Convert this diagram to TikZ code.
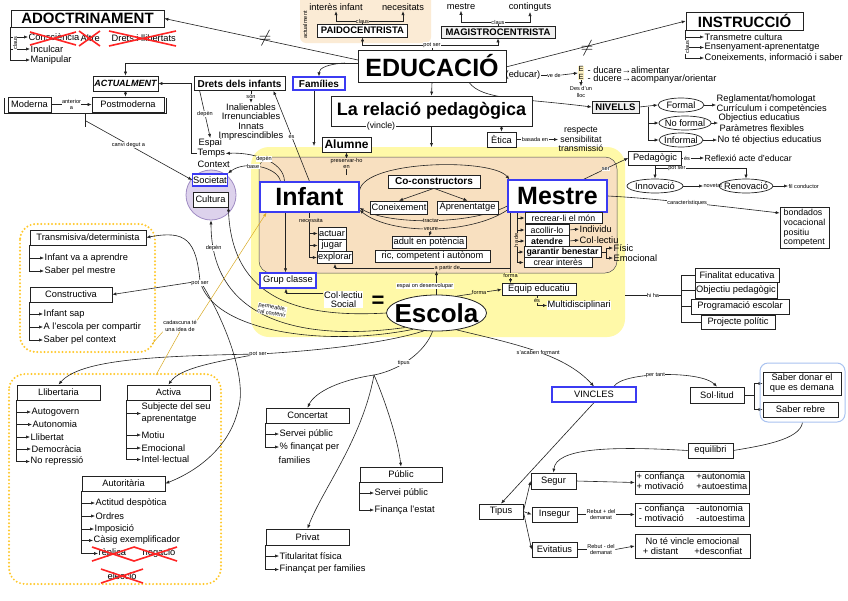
\documentclass[tikz,border=0pt]{standalone}
\usepackage{fontspec}
\setmainfont{Liberation Sans}
\usetikzlibrary{arrows.meta,shapes.geometric,calc}
\pgfdeclarelayer{bg}
\pgfdeclarelayer{edges}
\pgfsetlayers{bg,edges,main}
\definecolor{yel}{HTML}{FFF9A8}
\definecolor{beige}{HTML}{F8E0C0}
\definecolor{tbeige}{HTML}{FBEBD5}
\definecolor{lav}{HTML}{DDD2EC}
\definecolor{lavd}{HTML}{A08CC4}
\definecolor{dorange}{HTML}{FFC82A}
\definecolor{bblue}{HTML}{3B3BF2}
\definecolor{lblue}{HTML}{A9C2F0}
\definecolor{xred}{HTML}{FF2424}
\definecolor{ink}{HTML}{222222}
\tikzset{
  mw/.style={minimum width=#1},
  mh/.style={minimum height=#1},
  nf/.style={font=\fontsize{9.3}{10.3}\selectfont},
  box/.style={draw=ink, line width=0.7pt, fill=white, inner sep=1pt, nf},
  bbox/.style={box, draw=bblue, line width=1.2pt},
  gbox/.style={box, fill=gray!12},
  mbox/.style={box, inner sep=0.6pt, mh=10.5pt, font=\fontsize{8.8}{9.5}\selectfont},
  txt/.style={inner sep=0.5pt, nf, anchor=west},
  ctxt/.style={inner sep=0.5pt, nf},
  lbl/.style={inner sep=0.4pt, font=\fontsize{5.6}{6.2}\selectfont, fill=white},
  conn/.style={draw=ink, line width=0.6pt},
  arr/.style={conn, -{Latex[length=4pt,width=3.2pt]}},
  oval/.style={ellipse, draw=ink, line width=0.7pt, fill=white, inner xsep=-3pt, inner ysep=-2pt, mh=14pt, nf},
  redx/.style={draw=xred, line width=1.6pt},
  dotbox/.style={draw=dorange, line width=2.2pt, dash pattern=on 0pt off 3.6pt, line cap=round, rounded corners=16pt},
  yline/.style={draw=dorange!85!black, line width=0.5pt},
}
\begin{document}
\begin{tikzpicture}[x=1pt,y=-1pt]
\useasboundingbox (0,0) rectangle (848,600);
\begin{pgfonlayer}{bg}
  \fill[white] (0,0) rectangle (848,600);
  \fill[tbeige, rounded corners=6pt] (300,-10) rectangle (431,43);
  \fill[yel, rounded corners=18pt] (251,147) rectangle (625,337);
  \filldraw[fill=beige, draw=ink!80, line width=0.5pt, rounded corners=12pt] (259,157) rectangle (617,273);
  \node[circle, draw=lavd, line width=0.8pt, fill=lav, minimum size=50pt, inner sep=0pt] (circ) at (211,195) {};
  \draw[dotbox] (20,224) rectangle (155,352);
  \draw[dotbox] (9,374) rectangle (221,584);
\end{pgfonlayer}

% ---------------- top left
\node[box, mw=153pt, mh=17pt, font=\bfseries\fontsize{15}{15}\selectfont] (adoc) at (87.5,18.5) {ADOCTRINAMENT};
\node[txt] (consc) at (28,37) {Consciència};
\node[txt] (altre) at (80,38) {Altre};
\node[txt] (dretsll) at (111,38) {Drets i llibertats};
\node[txt] (incul) at (30,49) {Inculcar};
\node[txt] (manip) at (30,60) {Manipular};
\node[lbl, rotate=90] (claus1) at (15,43) {claus};
\node[box, mw=65pt, mh=15pt, font=\bfseries\itshape\fontsize{9}{10}\selectfont] (actual) at (125.5,83.5) {ACTUALMENT};
\node[box, mw=43pt, mh=15pt] (moderna) at (29.5,104.5) {Moderna};
\node[box, mw=72pt, mh=15pt] (post) at (128,104.5) {Postmoderna};
\coordinate (brk) at (86,121);

% ---------------- drets / families
\node[box, mw=91pt, mh=14pt, font=\bfseries\fontsize{10}{11}\selectfont] (drets) at (239.5,83.5) {Drets dels infants};
\node[ctxt, align=center, font=\fontsize{9.3}{9.4}\selectfont] (inal) at (251,122) {Inalienables\\Irrenunciables\\Innats\\Imprescindibles};
\node[txt] (espai) at (198,143) {Espai};
\node[txt] (temps) at (197,153.5) {Temps};
\node[txt] (context) at (197,164) {Context};
\coordinate (tcorner) at (191,83.5);
\node[bbox, mw=52pt, mh=13pt, font=\bfseries\fontsize{10}{11}\selectfont] (fam) at (319,83.5) {Famílies};
\coordinate (famend) at (314,146);
\node[box, mw=49pt, mh=15pt, font=\bfseries\fontsize{12}{13}\selectfont] (alumne) at (346.5,144.5) {Alumne};
\coordinate (pres) at (346.5,175);

% ---------------- top middle
\node[ctxt] (intinf) at (336,7) {interès infant};
\node[ctxt] (necess) at (403,7) {necesitats};
\node[box, mw=90pt, mh=13pt, font=\bfseries\fontsize{9.5}{10}\selectfont] (paido) at (362.5,30.5) {PAIDOCENTRISTA};
\coordinate (cp) at (362.5,21);
\node[lbl, fill=none, rotate=90] (actualm) at (305,25) {actualment};
\node[ctxt] (mestret) at (461,7) {mestre};
\node[ctxt] (contin) at (530,7) {continguts};
\node[gbox, mw=114pt, mh=12pt, font=\bfseries\fontsize{9.5}{10}\selectfont] (magis) at (498,32) {MAGISTROCENTRISTA};
\coordinate (cm) at (498,22);
\node[box, mw=148pt, mh=32pt, font=\bfseries\fontsize{25}{25}\selectfont] (educ) at (432,66) {EDUCACIÓ};
\coordinate (ps0) at (432,45);
\coordinate (e60) at (358,60);
\coordinate (e63) at (358,63);
\coordinate (f63) at (345,63);
\coordinate (e67) at (506,67);
\node[font=\bfseries\fontsize{17}{17}\selectfont, inner sep=0pt] (ne1) at (265,38) {$\neq$};
\node[font=\bfseries\fontsize{17}{17}\selectfont, inner sep=0pt] (ne2) at (587,48) {$\neq$};

% ---------------- top right
\node[box, mw=117pt, mh=18pt, font=\bfseries\fontsize{15}{15}\selectfont] (instr) at (744.5,21) {INSTRUCCIÓ};
\node[txt] (transm1) at (704,37) {Transmetre cultura};
\node[txt] (ensen) at (704,47.5) {Ensenyament-aprenentatge};
\node[txt] (coneixs) at (704,58) {Coneixements, informació i saber};
\node[lbl, rotate=90] (claus2) at (687,47) {claus};
\node[ctxt] (educar) at (523,75) {(educar)};
\node[lbl, fill=none] (vede) at (554,75) {ve de};
\node[fill=tbeige!60!yel, inner sep=0.4pt, align=center, font=\fontsize{7.5}{7.5}\selectfont] (Ebox) at (581,73) {E\\E};
\node[txt] (ducare) at (587,70) {- ducare→alimentar};
\node[txt] (ducere) at (587,79) {- ducere→acompanyar/orientar};
\node[lbl, fill=none, align=center] (desd) at (581,92) {Des d'un\\lloc};
\node[gbox, mw=47pt, mh=12pt, font=\bfseries\fontsize{9.5}{10}\selectfont] (niv) at (615.5,107) {NIVELLS};
\node[oval, mw=46pt] (formal) at (681,105) {Formal};
\node[oval, mw=52pt] (noformal) at (685,123) {No formal};
\node[oval, mw=44pt] (informal) at (681,140) {Informal};
\coordinate (nb) at (648,107);
\node[txt] (regl) at (716,99) {Reglamentat/homologat};
\node[txt] (curr) at (716,109.5) {Currículum i competències};
\node[txt] (objed) at (718,118) {Objectius educatius};
\node[txt] (param) at (719,128) {Paràmetres flexibles};
\node[txt] (noteobj) at (717,140) {No té objectius educatius};
\node[box, mw=53pt, mh=14pt] (pedag) at (655,158) {Pedagògic};
\node[lbl] (es3) at (687,158) {és};
\node[txt, font=\fontsize{8.8}{9.5}\selectfont] (reflex) at (704,158) {Reflexió acte d'educar};
\coordinate (pb) at (655,168);
\node[oval, mw=56pt] (innov) at (655,186) {Innovació};
\node[oval, mw=50pt] (renov) at (746,186) {Renovació};
\node[lbl, fill=none, anchor=west] (novetat) at (703,186) {novetat};
\node[lbl, fill=none, anchor=west] (filc) at (788,186) {fil conductor};
\node[box, align=left, inner sep=2pt, font=\fontsize{8.8}{9.6}\selectfont, mw=49pt] (bond) at (804.5,228) {bondados\\vocacional\\positiu\\competent};

% ---------------- relacio
\node[box, mw=201pt, mh=30pt, font=\bfseries\fontsize{18}{18}\selectfont] (relacio) at (431.5,111) {La relació pedagògica};
\node[ctxt, fill=white, font=\fontsize{8.8}{9}\selectfont] (vincle) at (381,126) {(vincle)};
\coordinate (ytop) at (431.5,147);
\node[box, mw=29pt, mh=15pt] (etica) at (501.5,139.5) {Ètica};
\node[lbl, fill=none] (basada) at (535,139.5) {basada en};
\node[txt, align=center, font=\fontsize{8.8}{9.6}\selectfont] (valors) at (558,139.5) {respecte\\sensibilitat\\transmissió};

% ---------------- society
\node[bbox, mw=34pt, mh=12pt, inner sep=0.5pt] (soc) at (210,180) {Societat};
\node[box, mw=35pt, mh=15pt] (cult) at (210.5,199.5) {Cultura};

% ---------------- infant / mestre
\node[bbox, mw=99pt, mh=30pt, font=\bfseries\fontsize{25}{25}\selectfont] (infant) at (309.5,197) {Infant};
\node[bbox, mw=99pt, mh=32pt, font=\bfseries\fontsize{25}{25}\selectfont] (mestre) at (557.5,196) {Mestre};
\node[box, mw=92pt, mh=13pt, font=\bfseries\fontsize{10}{11}\selectfont] (cocon) at (434,181.5) {Co-constructors};
\node[box, mw=56pt, mh=13pt] (coneix) at (399,207.5) {Coneixement};
\node[box, mw=61pt, mh=13pt] (apren) at (467.5,207.5) {Aprenentatge};
\node[box, mw=74pt, mh=12pt] (adult) at (429,242.5) {adult en potència};
\node[box, mw=115pt, mh=12pt] (ric) at (432.5,256.5) {ric, competent i autònom};
\node[box, mw=28pt, mh=12pt] (actuar) at (332,233.5) {actuar};
\node[box, mw=28pt, mh=12pt] (jugar) at (332,245.5) {jugar};
\node[box, mw=34pt, mh=12pt] (explorar) at (335,257.5) {explorar};
\node[lbl, fill=beige] (necessita) at (311,220) {necessita};
\node[mbox, mw=77pt] (recrear) at (563.5,218) {recrear-li el món};
\node[mbox, mw=44pt] (acollir) at (547,230) {acollir-lo};
\node[mbox, mw=44pt, font=\bfseries\fontsize{8.8}{9.5}\selectfont] (atendre) at (547,241) {atendre};
\node[mbox, mw=77pt, font=\bfseries\fontsize{8.8}{9.5}\selectfont] (garantir) at (562.5,252) {garantir benestar};
\node[mbox, mw=68pt] (crear) at (558,262.5) {crear interès};
\node[lbl, rotate=90, fill=beige] (hade) at (516,240) {ha de};
\node[txt] (indiv) at (579,229) {Individu};
\node[txt] (collec) at (579,240) {Col·lectiu};
\node[txt] (fisic) at (613,248) {Físic};
\node[txt] (emoc) at (613,258) {Emocional};
\coordinate (mb) at (517,212);
\coordinate (gb) at (606,252);

% ---------------- escola
\node[bbox, mw=56pt, mh=15pt] (grup) at (288,280.5) {Grup classe};
\node[ctxt, align=center, fill=white, font=\fontsize{9.3}{9.6}\selectfont] (colsoc) at (343.5,299.5) {Col·lectiu\\Social};
\node[font=\bfseries\fontsize{22}{22}\selectfont, inner sep=0pt] (eqsign) at (378,302) {=};
\node[ellipse, draw=ink, line width=0.8pt, fill=white, minimum width=100pt, minimum height=36pt, inner xsep=-20pt, inner ysep=-6pt, font=\bfseries\fontsize{26}{26}\selectfont] (escola) at (436.5,313) {Escola};
\node[box, mw=74pt, mh=12pt] (equip) at (539,289.5) {Equip educatiu};
\node[lbl, fill=yel] (es4) at (537,300.5) {és};
\node[txt, fill=white] (multi) at (547,305.5) {Multidisciplinari};
\coordinate (ap) at (510.5,268);
\coordinate (eup) at (436.5,271);
\node[lbl] (espaiL) at (425,286) {espai on desenvolupar};
\coordinate (yr) at (625,295);
\coordinate (hb) at (681,295);
\node[box, mw=84pt, mh=14pt] (finalitat) at (737,275) {Finalitat educativa};
\node[box, mw=82pt, mh=16pt] (objectiu) at (736,290) {Objectiu pedagògic};
\node[box, mw=98pt, mh=15pt] (program) at (740,306.5) {Programació escolar};
\node[box, mw=74pt, mh=14pt] (projecte) at (738,322) {Projecte polític};

% ---------------- left groups
\node[box, mw=116pt, mh=15pt] (transm) at (88,237.5) {Transmisiva/determinista};
\node[txt] (t1) at (44,258) {Infant va a aprendre};
\node[txt] (t2) at (44,271) {Saber pel mestre};
\node[box, mw=82pt, mh=15pt] (constr) at (71,294.5) {Constructiva};
\node[txt] (c1) at (43,314) {Infant sap};
\node[txt] (c2) at (43,327) {A l'escola per compartir};
\node[txt] (c3) at (43,340) {Saber pel context};
\coordinate (ps1) at (200,281);
\node[lbl, align=center, fill=none] (cada) at (180,326) {cadascuna té\\una idea de};
\coordinate (yl1) at (152,344);
\coordinate (yl2) at (156,375);

\node[box, mw=83pt, mh=15pt] (llib) at (58.5,392.5) {Llibertaria};
\node[txt] (l1) at (31,412) {Autogovern};
\node[txt] (l2) at (32,424.5) {Autonomia};
\node[txt] (l3) at (30,437) {Llibertat};
\node[txt] (l4) at (31,449) {Democràcia};
\node[txt] (l5) at (30,461.5) {No repressió};
\node[box, mw=83pt, mh=15pt] (activa) at (168.5,392.5) {Activa};
\node[txt, align=left, font=\fontsize{9.3}{12}\selectfont] (a1) at (141,413.5) {Subjecte del seu\\aprenentatge};
\node[txt] (a2) at (141,435) {Motiu};
\node[txt] (a3) at (141,448) {Emocional};
\node[txt] (a4) at (141,459.5) {Intel·lectual};
\node[box, mw=83pt, mh=15pt] (autor) at (123.5,483.5) {Autoritària};
\node[txt] (u1) at (95,503) {Actitud despòtica};
\node[txt] (u2) at (95,516) {Ordres};
\node[txt] (u3) at (94,529) {Imposició};
\node[txt] (u4) at (93,540.5) {Càsig exemplificador};
\node[txt] (u5) at (98,553.5) {rèplica};
\node[txt] (u6) at (142,553.5) {negació};
\node[txt] (u7) at (107,576) {elecció};
\coordinate (ps2) at (258,354);

% ---------------- school types
\coordinate (tb) at (374,375);
\node[box, mw=83pt, mh=15pt] (concert) at (307.5,415.5) {Concertat};
\node[txt] (k1) at (279,434) {Servei públic};
\node[txt] (k2) at (279,447) {\% finançat per};
\node[txt] (k3) at (278,460) {families};
\node[box, mw=82pt, mh=15pt] (public) at (401,474.5) {Públic};
\node[txt] (p1) at (374,493) {Servei públic};
\node[txt] (p2) at (374,510) {Finança l'estat};
\node[box, mw=83pt, mh=16pt] (privat) at (307.5,537) {Privat};
\node[txt] (v1) at (279,556) {Titularitat física};
\node[txt] (v2) at (279,569.5) {Finançat per families};

% ---------------- vincles
\node[bbox, mw=84pt, mh=15pt] (vincles) at (594,394.5) {VINCLES};
\node[box, mw=54pt, mh=16pt] (sol) at (717,395) {Sol·litud};
\node[draw=lblue, line width=1pt, rounded corners=8pt, minimum width=85pt, minimum height=59pt, inner sep=0pt] (sabergrp) at (802.5,392.5) {};
\node[box, mw=78pt, mh=23pt, align=center, font=\fontsize{9.3}{10}\selectfont] (saberd) at (802,383.5) {Saber donar el\\que es demana};
\node[box, mw=75pt, mh=15pt] (saberr) at (800.5,409.5) {Saber rebre};
\coordinate (sb) at (754,395);
\node[box, mw=45pt, mh=15pt] (equil) at (710.5,450.5) {equilibri};
\node[box, mw=44pt, mh=15pt] (tipus2) at (501,511.5) {Tipus};
\node[box, mw=45pt, mh=16pt] (segur) at (553.5,481) {Segur};
\node[box, mw=45pt, mh=15pt] (insegur) at (554.5,514.5) {Insegur};
\node[box, mw=45pt, mh=15pt] (evit) at (554.5,549.5) {Evitatius};
\node[box, mw=114pt, mh=23pt] (bx1) at (692,482.5) {\begin{tabular}{@{}l@{\hspace{12pt}}l@{}}+ confiança & +autonomia\\+ motivació & +autoestima\end{tabular}};
\node[box, mw=114pt, mh=23pt] (bx2) at (692,514.5) {\begin{tabular}{@{}l@{\hspace{12pt}}l@{}}- confiança & -autonomia\\- motivació & -autoestima\end{tabular}};
\node[box, mw=115pt, mh=24pt, align=center, font=\fontsize{9.3}{10.5}\selectfont] (bx3) at (692.5,546) {No té vincle emocional\\+ distant\hspace{16pt}+desconfiat};
\node[lbl, align=center, fill=none] (reb1) at (601,514.5) {Rebut + del\\demanat};
\node[lbl, align=center, fill=none] (reb2) at (601,549.5) {Rebut - del\\demanat};

% ---------------- labels on junctions
\node[lbl, fill=tbeige] (clausp) at (cp) {claus};
\node[lbl] (clausm) at (cm) {claus};
\node[lbl] (potser0) at (ps0) {pot ser};
\node[lbl] (potser1) at (200,283) {pot ser};
\node[lbl] (potser2) at (ps2) {pot ser};
\node[lbl, align=center, rotate=-10] (perm) at (272,310) {permeable,\\cal contenir};

% ---------------- red crosses
\draw[redx] (30,32) -- (76,45) (30,45) -- (76,32);
\draw[redx] (79,31) -- (100,46) (79,46) -- (100,31);
\draw[redx] (109,31) -- (176,46) (109,46) -- (176,31);
\draw[redx] (92,547) -- (134,561) (92,561) -- (134,547);
\draw[redx] (134,547) -- (177,561) (134,561) -- (177,547);
\draw[redx] (101,569) -- (143,583) (101,583) -- (143,569);

\begin{pgfonlayer}{edges}
% top left
\draw[arr] (e60) -- (adoc.east);
\draw[arr] (adoc.south west) |- (manip.west);
\draw[arr] (adoc.south west |- consc.west) -- (consc.west);
\draw[arr] (adoc.south west |- incul.west) -- (incul.west);
\draw[arr] (e63) -| (actual.north);
\draw[arr] (f63) .. controls (328,64) and (319,68) .. (fam.north);
\draw[arr] (actual.south) -- (actual.south |- post.north);
\draw[arr] (moderna.east) -- (post.west) node[lbl, midway, align=center] {anterior\\a};
\draw[conn] (4,98) -- (4,113) -- (166,113) -- (166,98);
\draw[conn] (85,113) -- (85,127);
\draw[arr] (brk) -- (soc.west) node[lbl, pos=0.4] {canvi degut a};
\draw[arr] (temps.west) -| (tcorner) -- (actual.east);
\draw[arr] ([xshift=6pt]drets.south west) -- (espai.north) node[lbl, midway] {depèn};
\draw[arr] (drets.south -| inal.north) -- (inal.north) node[lbl, midway] {són};
\draw[arr] (infant.north) -- ([xshift=34pt]drets.south) node[lbl, pos=0.5] {és};
\draw[arr] (fam.south -| famend) -- (famend);
\draw[arr] (pres) -- (alumne.south) node[lbl, midway, fill=beige, align=center] {preservar-ho\\en};
% educacio
\draw[arr] (educ.south) -- (relacio.north);
\draw[arr] (relacio.south) -- (ytop);
\draw[arr] (relacio.south -| etica.north) -- (etica.north);
\draw[conn] (etica.east) -- (basada.west);
\draw[arr] (basada.east) -- (valors.west);
\draw[conn] (educ.north) -- (ps0);
\draw[arr] (ps0) -| (paido.south);
\draw[arr] (ps0) -| (magis.south);
\draw[conn] (paido.north) -- (cp);
\draw[arr] (cp) -| (intinf.south);
\draw[arr] (cp) -| (necess.south);
\draw[conn] (magis.north) -- (cm);
\draw[arr] (cm) -| (mestret.south);
\draw[arr] (cm) -| (contin.south);
\draw[arr] (e67) -- (instr.west);
\draw[arr] (instr.south west) |- (coneixs.west);
\draw[arr] (instr.south west |- transm1.west) -- (transm1.west);
\draw[arr] (instr.south west |- ensen.west) -- (ensen.west);
\draw[conn] (educar.east) -- (vede.west);
\draw[arr] (vede.east) -- (Ebox.west);
\draw[arr] (Ebox.south) -- (desd.north);
\draw[arr] ([xshift=37pt]educ.south) .. controls (482,100) and (520,98) .. (niv.west);
% nivells
\draw[arr] (niv.east) -- (formal.west);
\draw[arr] (nb) |- (noformal.west);
\draw[arr] (nb) |- (informal.west);
\draw[arr] (formal.east) -- (formal.east -| regl.west);
\draw[arr] (noformal.east) -- (noformal.east -| objed.west);
\draw[arr] (informal.east) -- (informal.east -| noteobj.west);
% pedagogic
\draw[arr] ([xshift=26pt]mestre.north) -- (pedag.west) node[lbl, pos=0.5] {ser};
\draw[conn] (pedag.east) -- (es3.west);
\draw[arr] (es3.east) -- (reflex.west);
\draw[conn] (pedag.south) -- (pb);
\draw[arr] (pb) -- (innov.north);
\draw[arr] (pb) -| (renov.north) node[lbl, pos=0.12] {pot ser};
\draw[arr] (innov.east) -- (novetat.west);
\draw[arr] (renov.east) -- (filc.west);
\draw[arr] (mestre.east) .. controls (650,198) and (720,206) .. ([yshift=15pt]bond.west) node[lbl, pos=0.5] {característiques};
% infant
\draw[arr] ([xshift=-25pt]infant.north) .. controls (284,160) and (250,152) .. (temps.east) node[lbl, pos=0.5] {depèn};
\draw[arr] ([xshift=-29pt]infant.north) .. controls (278,167) and (245,160) .. (soc.north east) node[lbl, pos=0.6] {base};
\draw[arr] ([yshift=7pt]infant.east) .. controls (366,160) and (492,158) .. ([xshift=2pt]mestre.north west);
\draw[arr] (cocon.south) -- (coneix.north);
\draw[arr] (cocon.south) -- (apren.north);
\draw[arr] ([yshift=-10pt]mestre.west) .. controls (470,225) and (390,225) .. ([yshift=-11pt]infant.east) node[lbl, pos=0.5, fill=beige] {tractar};
\draw[arr] ([yshift=-14pt]mestre.west) .. controls (470,235) and (390,235) .. ([yshift=-13pt]infant.east) node[lbl, pos=0.5, fill=beige] (veurel) {veure};
\draw[arr] (veurel.south) -- (adult.north);
\draw[arr] (infant.south) |- (explorar.west);
\draw[arr] (infant.south |- actuar.west) -- (actuar.west);
\draw[arr] (infant.south |- jugar.west) -- (jugar.west);
\draw[arr] ([xshift=-24pt]infant.south) -- ([xshift=-24pt]infant.south |- grup.north);
\draw[arr] ([yshift=6pt]colsoc.west) -| ([xshift=-2pt]grup.south);
% mestre
\draw[arr] (mb) |- (crear.west);
\draw[arr] (mb |- recrear.west) -- (recrear.west);
\draw[arr] (mb |- acollir.west) -- (acollir.west);
\draw[arr] (mb |- atendre.west) -- (atendre.west);
\draw[arr] (mb |- garantir.west) -- (garantir.west);
\draw[arr] (acollir.east) -- (indiv.west);
\draw[arr] (atendre.east) -- (collec.west);
\draw[conn] (garantir.east) -- (gb);
\draw[arr] (gb) |- (fisic.west);
\draw[arr] (gb) |- (emoc.west);
\draw[arr] ([xshift=-47pt]mestre.south) -- ([xshift=-47pt]mestre.south |- equip.north) node[lbl, pos=0.89, fill=yel] {forma};
\draw[arr] (ap) -| (explorar.south) node[lbl, pos=0.18, fill=beige] {a partir de};
% escola
\draw[arr] (escola.north) -- (eup);
\draw[arr] (escola.40) -- (equip.west) node[lbl, midway, fill=yel] {forma};
\draw[conn] (equip.south -| es4) -- (es4);
\draw[arr] (es4.south) |- (multi.west);
\draw[conn] (yr) -- (hb) node[lbl, midway] {hi ha};
\draw[conn, line width=0.9pt] (hb |- finalitat.west) -- (hb |- projecte.west);
\draw[conn] (hb |- finalitat.west) -- (finalitat.west);
\draw[conn] (hb |- objectiu.west) -- (objectiu.west);
\draw[conn] (hb |- program.west) -- (program.west);
\draw[conn] (hb |- projecte.west) -- (projecte.west);
\draw[arr] (escola.west) .. controls (300,318) and (232,300) .. (cult.south east);
\draw[arr] (escola.205) .. controls (300,342) and (211,320) .. (circ.south) node[lbl, pos=0.9] {depèn};
\draw[conn] (escola.215) .. controls (320,348) and (212,330) .. (ps1);
\draw[arr] (ps1) .. controls (196,240) and (186,230) .. (transm.east);
\draw[arr] (ps1) -- (constr.east);
\draw[arr] (ps1) .. controls (225,320) and (248,380) .. (238,410) .. controls (230,445) and (200,470) .. (autor.east);
\draw[conn] (escola.235) .. controls (380,345) and (300,352) .. (ps2);
\draw[arr] (ps2) .. controls (150,356) and (80,360) .. (llib.north);
\draw[arr] (ps2) .. controls (215,362) and (180,368) .. (activa.north);
\draw[yline, -{Latex[length=4pt,width=3pt]}] (cada.north east) -- ([xshift=-43pt]infant.south);
\draw[yline] (cada.south west) -- (yl1);
\draw[yline] (cada.south) -- (yl2);
% left lists
\draw[arr] (transm.south west) |- (t2.west);
\draw[arr] (transm.south west |- t1.west) -- (t1.west);
\draw[arr] (constr.south west) |- (c3.west);
\draw[arr] (constr.south west |- c1.west) -- (c1.west);
\draw[arr] (constr.south west |- c2.west) -- (c2.west);
\draw[arr] (llib.south west) |- (l5.west);
\draw[arr] (llib.south west |- l1.west) -- (l1.west);
\draw[arr] (llib.south west |- l2.west) -- (l2.west);
\draw[arr] (llib.south west |- l3.west) -- (l3.west);
\draw[arr] (llib.south west |- l4.west) -- (l4.west);
\draw[arr] (activa.south west) |- (a4.west);
\draw[arr] (activa.south west |- a1.west) -- (a1.west);
\draw[arr] (activa.south west |- a2.west) -- (a2.west);
\draw[arr] (activa.south west |- a3.west) -- (a3.west);
\draw[arr] (autor.south west) |- (u5.west);
\draw[arr] (autor.south west |- u1.west) -- (u1.west);
\draw[arr] (autor.south west |- u2.west) -- (u2.west);
\draw[arr] (autor.south west |- u3.west) -- (u3.west);
\draw[arr] (autor.south west |- u4.west) -- (u4.west);
% tipus
\draw[conn] (escola.258) .. controls (425,352) and (400,370) .. (tb) node[lbl, pos=0.6] {tipus};
\draw[arr] (tb) .. controls (340,380) and (315,392) .. (concert.north);
\draw[arr] (tb) .. controls (385,400) and (398,440) .. (public.north);
\draw[arr] (tb) .. controls (362,440) and (322,490) .. (privat.north);
\draw[arr] (concert.south west) |- (k2.west);
\draw[arr] (concert.south west |- k1.west) -- (k1.west);
\draw[arr] (public.south west) |- (p2.west);
\draw[arr] (public.south west |- p1.west) -- (p1.west);
\draw[arr] (privat.south west) |- (v2.west);
\draw[arr] (privat.south west |- v1.west) -- (v1.west);
% vincles
\draw[arr] (escola.320) .. controls (520,345) and (565,355) .. (vincles.north) node[lbl, pos=0.5] {s'acaben formant};
\draw[arr] ([xshift=20pt]vincles.north) .. controls (622,372) and (700,370) .. (sol.north) node[lbl, pos=0.45] {per tant};
\draw[conn] (sol.east) -- (sb);
\draw[arr] (sb) |- (saberd.west);
\draw[arr] (sb) |- (saberr.west);
\draw[conn] (sabergrp.south) .. controls (800,440) and (760,446) .. (equil.east);
\draw[arr] (equil.west) .. controls (610,446) and (556,448) .. (segur.north);
\draw[arr] (vincles.south) -- (tipus2.north);
\draw[arr] (tipus2.east) -- (segur.west);
\draw[arr] (tipus2.east) -- (insegur.west);
\draw[arr] (tipus2.east) -- (evit.west);
\draw[arr] (segur.east) -- (bx1.west);
\draw[conn] (insegur.east) -- (reb1.west);
\draw[arr] (reb1.east) -- (bx2.west);
\draw[conn] (evit.east) -- (reb2.west);
\draw[arr] (reb2.east) -- (bx3.west);
\end{pgfonlayer}
\end{tikzpicture}
\end{document}
